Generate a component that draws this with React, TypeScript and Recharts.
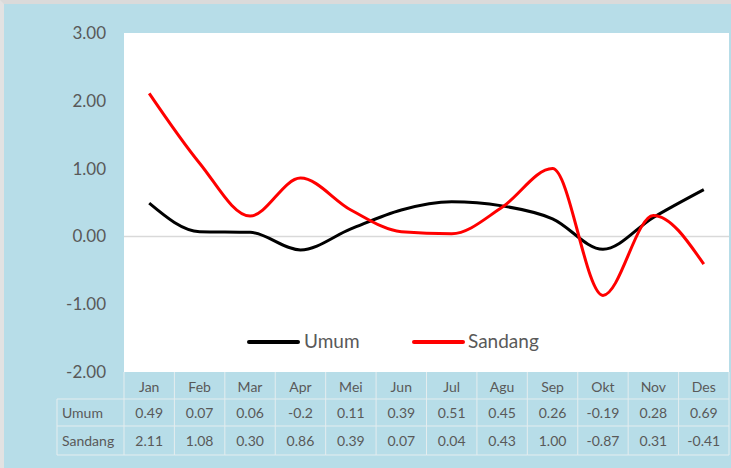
import React from "react";
import { LineChart, Line, XAxis, YAxis, CartesianGrid, ReferenceLine } from "recharts";

const months = ["Jan", "Feb", "Mar", "Apr", "Mei", "Jun", "Jul", "Agu", "Sep", "Okt", "Nov", "Des"];
const umum = [0.49, 0.07, 0.06, -0.2, 0.11, 0.39, 0.51, 0.45, 0.26, -0.19, 0.28, 0.69];
const sandang = [2.11, 1.08, 0.3, 0.86, 0.39, 0.07, 0.04, 0.43, 1.0, -0.87, 0.31, -0.41];
const umumLabels = ["0.49", "0.07", "0.06", "-0.2", "0.11", "0.39", "0.51", "0.45", "0.26", "-0.19", "0.28", "0.69"];
const sandangLabels = ["2.11", "1.08", "0.30", "0.86", "0.39", "0.07", "0.04", "0.43", "1.00", "-0.87", "0.31", "-0.41"];
const yTicks = [-2, -1, 0, 1, 2, 3];

const data = months.map((m, i) => ({ month: m, Umum: umum[i], Sandang: sandang[i] }));

const FONT = "Lato, 'Open Sans', sans-serif";
const TEXT = "#595959";
const GRID = "#e4edef";
const PLOT_LEFT = 124;
const PLOT_RIGHT = 2;
const CELL_W = (731 - PLOT_LEFT - PLOT_RIGHT) / 12;
const ROW_LINES = [27, 54, 83];

const TableTick = (props: any) => {
  const { x, y, payload } = props;
  const i = payload.index;
  const l = x - CELL_W / 2;
  const r = x + CELL_W / 2;
  const txt = { fontFamily: FONT, fontSize: 14, fill: TEXT, textAnchor: "middle" as const, dominantBaseline: "central" as const };
  return (
    <g>
      <line x1={r} x2={r} y1={y} y2={y + ROW_LINES[2]} stroke={GRID} />
      {i === 0 && <line x1={l} x2={l} y1={y} y2={y + ROW_LINES[2]} stroke={GRID} />}
      {ROW_LINES.map((d) => (
        <line key={d} x1={l} x2={r} y1={y + d} y2={y + d} stroke={GRID} />
      ))}
      {i === 0 && (
        <g>
          <line x1={57} x2={l} y1={y + ROW_LINES[0]} y2={y + ROW_LINES[0]} stroke={GRID} />
          <line x1={57} x2={l} y1={y + ROW_LINES[1]} y2={y + ROW_LINES[1]} stroke={GRID} />
          <line x1={57} x2={l} y1={y + ROW_LINES[2]} y2={y + ROW_LINES[2]} stroke={GRID} />
          <line x1={57} x2={57} y1={y + ROW_LINES[0]} y2={y + ROW_LINES[2]} stroke={GRID} />
          <text {...txt} x={62} y={y + 40} textAnchor="start">Umum</text>
          <text {...txt} x={62} y={y + 68} textAnchor="start">Sandang</text>
        </g>
      )}
      <text {...txt} x={x} y={y + 14}>{payload.value}</text>
      <text {...txt} x={x} y={y + 40}>{umumLabels[i]}</text>
      <text {...txt} x={x} y={y + 68}>{sandangLabels[i]}</text>
    </g>
  );
};

export default function App() {
  return (
    <div
      style={{
        position: "absolute",
        left: 0,
        top: 0,
        width: 731,
        height: 468,
        background: "#b7dde8",
        boxSizing: "border-box",
        borderTop: "4px solid #dadada",
        borderLeft: "4px solid #e2e2e2",
      }}
    >
      <div style={{ position: "absolute", left: -4, top: -4 }}>
        <LineChart width={731} height={468} data={data} margin={{ top: 33, right: PLOT_RIGHT, left: 0, bottom: 0 }}>
          <CartesianGrid horizontal={false} vertical={false} fill="#ffffff" stroke="none" />
          <ReferenceLine y={0} stroke="#d9d9d9" strokeWidth={1.5} />
          <XAxis
            dataKey="month"
            height={96}
            interval={0}
            axisLine={false}
            tickLine={false}
            tickSize={0}
            tickMargin={0}
            padding={{ left: CELL_W / 2, right: CELL_W / 2 }}
            tick={<TableTick />}
          />
          <YAxis
            width={PLOT_LEFT}
            domain={[-2, 3]}
            ticks={yTicks}
            axisLine={false}
            tickLine={false}
            tickSize={0}
            tickMargin={18}
            tickFormatter={(v: number) => v.toFixed(2)}
            tick={{ fontFamily: FONT, fontSize: 17, fill: TEXT }}
          />
          <Line type="monotone" dataKey="Umum" stroke="#000000" strokeWidth={3} dot={false} isAnimationActive={false} />
          <Line type="monotone" dataKey="Sandang" stroke="#ff0000" strokeWidth={3} dot={false} isAnimationActive={false} />
        </LineChart>
        <div style={{ position: "absolute", left: 0, top: 329, width: 731, height: 24, fontFamily: FONT, fontSize: 19, color: TEXT }}>
          <div style={{ position: "absolute", left: 247, top: 11, width: 53, height: 4, background: "#000", borderRadius: 2 }} />
          <span style={{ position: "absolute", left: 304, top: 0 }}>Umum</span>
          <div style={{ position: "absolute", left: 412, top: 11, width: 53, height: 4, background: "#ff0000", borderRadius: 2 }} />
          <span style={{ position: "absolute", left: 468, top: 0 }}>Sandang</span>
        </div>
      </div>
    </div>
  );
}
